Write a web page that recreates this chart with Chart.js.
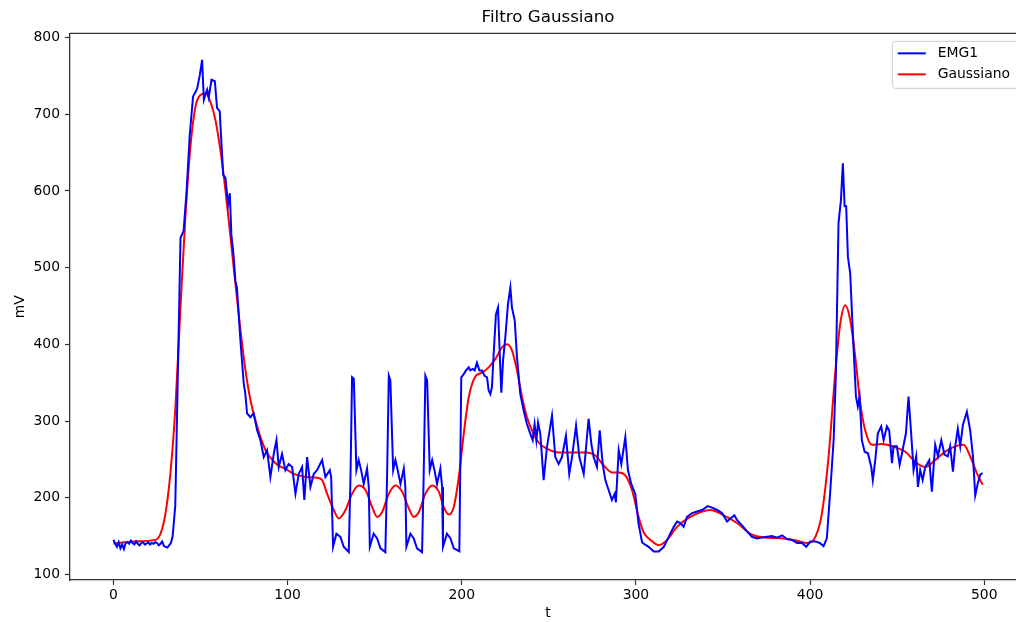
<!DOCTYPE html>
<html>
<head>
<meta charset="utf-8">
<script src="https://cdn.jsdelivr.net/npm/chart.js@4/dist/chart.umd.min.js"></script>
<style>
  html, body { margin: 0; padding: 0; background: #fff; overflow: hidden; }
  #wrap { width: 1040px; height: 622px; }
</style>
</head>
<body>
<div id="wrap"><canvas id="chart" width="1040" height="622"></canvas></div>
<script>
// EMG1 raw signal (t, mV)
let emgT = [0, 1, 2, 3, 4, 5, 6, 7, 8, 9, 10, 11, 12, 13, 14, 15, 16, 17, 18, 19, 20, 21, 22, 23, 24, 25, 26, 27, 28, 29, 30, 31, 32, 33, 34, 35.5,
    38.5, 40.3, 42, 43.8, 45.7, 48, 49.5, 50.9, 51.9, 53, 53.8, 54.7, 56.3, 58.2, 59.5, 61, 63, 64.3, 65.8, 66.8, 67.7, 69, 70, 70.9,
    72.9, 74.8, 75.7, 76.7, 78.6, 80.5, 82.5, 84.4, 86.3, 88.2, 90.1, 92.1, 93.6, 94.9, 96.8, 98.7, 100.6,
    102.6, 104.5, 106.4, 108.3, 109.6, 111.2, 113.1, 115, 116.9, 119.8, 121.7, 124.2, 125, 126.1, 128, 130.3, 132.2, 135.1,
    136.1, 137, 138, 139.5, 140.8, 142.2, 143.7, 145.6, 146.6, 147.2, 149.4, 151.4, 153.3, 156.1,
    157.1, 158.1, 159, 160.6, 161.9, 163.2, 164.8, 166.7, 167.6, 168.2, 170.5, 172.4, 174.3, 177.2,
    178.1, 179.1, 180.1, 181.6, 183, 184.3, 185.8, 187.7, 188.7, 189.2, 191.5, 193.5, 195.4, 198.6,
    199.7, 201.1, 202.4, 204, 204.9, 206.3, 207.4, 208.7, 210.1, 211.6, 213.1, 214.5, 215.4, 216.4, 217.3, 218.3, 219.6, 220.8,
    221.8, 222.7, 223.7, 225, 226.5, 227.9, 228.8, 230.4, 231.7, 233.6, 235.5, 237.4, 239.4, 240.7, 241.8, 242.8, 243.8, 245.1,
    247, 248.9, 251.8, 253.7, 255.6, 257.5, 259.8, 261.7, 263.3, 265.6, 267.5, 270, 272.8, 274.4, 275.7, 277.6, 279.2, 280.9,
    282.4, 284.3, 286.2, 287.8, 288.5, 290.1, 291.6, 293.9, 295.4, 297.3, 299.6, 301.5, 303.5,
    304.5, 307.3, 310.2, 313.1, 316, 318.8, 321.7, 323.6, 325.5, 327.4, 329.3, 332.2, 335.1, 338, 341.2, 343.7, 346.6, 349.4,
    352.3, 354.2, 356.5, 358, 360.9, 363.8, 366.6, 369.5, 372.4, 375.3, 378.1, 381, 383.9, 386.7, 389.6, 392.5, 395.3, 397.8,
    400.1, 403, 405.5, 407.7, 409.6, 411.6, 413.5, 414.8, 416.3, 417.7, 418.8, 419.8, 420.7, 421.7, 423, 424.9, 426.3, 427.4,
    428.4, 429.7, 431.3, 433.2, 435.1, 436, 437.4, 438.9, 440.8, 442.2, 444.1, 445.4, 447, 447.9, 449.8, 451.4, 453.1, 455,
    456.5, 458, 459.4, 460.9, 461.9, 463.2, 464.6, 466.1, 468.4, 469.9, 471.8, 473.4, 475.3, 477.2, 479.1, 480.4, 482, 483.3,
    484.8, 486.2, 487.7, 490, 491.9, 493.5, 494.8, 496.3, 497.7, 499]
let emgV = [145, 140, 136, 142, 134, 139, 133, 141, 142, 140, 144, 141, 139, 143, 140, 138, 141, 142, 139, 140, 142, 139, 141, 140, 142, 141, 138, 140, 143, 137, 136, 135, 138, 141, 150, 190,
    539, 548, 600, 673, 723, 733, 750, 771, 719, 727, 732, 722, 745, 743, 708, 704, 621, 617, 582, 597, 543, 515, 483, 474,
    405, 349, 336, 310, 305, 310, 288, 275, 253, 262, 227, 258, 275, 240, 257, 236, 244,
    240, 205, 231, 240, 197, 253, 214, 231, 236, 249, 227, 236, 227, 136, 153, 149, 136, 129,
    227, 357, 355, 236, 249, 236, 218, 238, 214, 136, 153, 147, 134, 129,
    227, 359, 353, 236, 249, 236, 218, 238, 214, 136, 153, 147, 134, 129,
    227, 359, 353, 236, 249, 236, 218, 238, 214, 136, 153, 147, 134, 130,
    357, 361, 366, 370, 366, 368, 366, 376, 366, 366, 359, 357, 340, 335, 344, 387, 439, 448,
    387, 337, 379, 409, 452, 474, 448, 431, 383, 335, 314, 296, 283, 275, 296, 275, 298, 283,
    223, 266, 307, 253, 244, 253, 281, 231, 253, 294, 253, 231, 303, 270, 253, 240, 288, 244,
    223, 210, 197, 205, 194, 262, 244, 279, 236, 218, 205, 166, 142,
    140, 136, 130, 130, 136, 149, 162, 169, 167, 162, 175, 180, 182, 184, 189, 187, 184, 180,
    169, 173, 177, 171, 164, 156, 149, 147, 148, 149, 150, 148, 151, 146, 145, 141, 141, 136,
    143, 143, 141, 137, 147, 210, 275, 362, 558, 588, 636, 580, 580, 514, 493, 397, 332, 319,
    332, 275, 260, 258, 240, 223, 249, 284, 293, 275, 293, 288, 245, 267, 267, 243, 262, 284,
    332, 284, 236, 254, 214, 236, 223, 240, 249, 208, 269, 254, 275, 256, 254, 267, 234, 267,
    290, 267, 295, 312, 288, 254, 203, 219, 230, 232]

// Gaussian filtered curve (t, mV)
let gaussT = [0, 11.7, 24.1, 27, 29.9, 32.7, 35.6, 38.5, 41.3, 44.2, 47.1, 49.9, 52.8, 55.7, 58.6, 61.4, 64.3, 67.2, 70, 72.9,
    75.8, 78.7, 82.5, 87.3, 93, 100, 103.5, 111.2, 116.9, 119.8, 122.7, 126.5, 129.4, 133.2, 137, 140.8, 144.7, 148.5, 151.4,
    154.2, 158.1, 161.9, 165.7, 169.6, 172.4, 175.3, 179.1, 183, 186.8, 189.6, 192.5, 195.4, 198.3, 201.1, 204, 207.8, 211.6,
    215.4, 219.3, 223.1, 226, 228.8, 231.7, 234.6, 237.4, 240.3, 244.1, 248.9, 255.6, 263.3, 270.9, 276.7, 281.5, 286.2, 290.1,
    293.9, 297.7, 301.5, 304.4, 308.3, 313.1, 317.9, 323.6, 331.2, 342.7, 350.4, 358, 365.7, 373.3, 382.9, 392.5, 398.2, 403,
    406.8, 410.6, 414.4, 417.3, 420.2, 423, 425.9, 428.8, 431.6, 435.5, 441.2, 447, 454.6, 460.3, 466.1, 471.8, 477.6, 483.3,
    488.1, 491.9, 495.7, 499]
let gaussV = [140, 143, 145, 153, 180, 232, 319, 449, 566, 658, 710, 725, 727, 716, 692, 653, 601, 540, 479, 419,
    366, 327, 293, 262, 245, 236, 231, 227, 226, 223, 205, 184, 173, 184, 205, 216, 210, 188, 175,
    181, 205, 216, 208, 186, 175, 181, 205, 216, 208, 188, 178, 188, 227, 283, 331, 358, 363,
    370, 381, 396, 400, 392, 366, 331, 305, 288, 272, 264, 259, 259, 259, 255, 242, 233, 233,
    229, 210, 175, 155, 145, 138, 145, 162, 175, 184, 177, 167, 153, 148, 147, 144, 141, 149,
    180, 254, 362, 427, 451, 432, 384, 323, 288, 269, 270, 267, 260, 247, 240, 249, 260, 267,
    269, 254, 232, 217]

let xTicks = [0, 100, 200, 300, 400, 500]
let yTicks = [100, 200, 300, 400, 500, 600, 700, 800]

let font = "'DejaVu Sans', sans-serif"
let axisColor = '#333'

// top spine (matplotlib box)
let frame = {
    id: 'frame',
    afterDraw(chart) {
        let {ctx, chartArea} = chart
        ctx.save()
        ctx.strokeStyle = axisColor
        ctx.lineWidth = 1.3
        ctx.beginPath()
        ctx.moveTo(chartArea.left, chartArea.top)
        ctx.lineTo(chartArea.right, chartArea.top)
        ctx.stroke()
        ctx.restore()
    }
}

// legend drawn inside the plot, upper right like matplotlib
let innerLegend = {
    id: 'innerLegend',
    afterDraw(chart) {
        let {ctx, chartArea} = chart
        let sets = chart.data.datasets
        ctx.save()
        ctx.font = '13.9px ' + font
        let textW = Math.max(...sets.map(d => ctx.measureText(d.label).width))
        let w = 6 + 28 + 12 + textW + 9
        let h = 47
        let x = chartArea.right - 7 - w
        let y = chartArea.top + 7.5
        ctx.fillStyle = 'rgba(255,255,255,0.8)'
        ctx.strokeStyle = '#cccccc'
        ctx.lineWidth = 1
        ctx.beginPath()
        ctx.roundRect(x + 0.5, y + 0.5, w, h, 3)
        ctx.fill()
        ctx.stroke()
        sets.forEach((d, i) => {
            let ly = y + 12.5 + i * 21
            ctx.strokeStyle = d.borderColor
            ctx.lineWidth = 2
            ctx.beginPath()
            ctx.moveTo(x + 6, ly)
            ctx.lineTo(x + 34, ly)
            ctx.stroke()
            ctx.fillStyle = '#000'
            ctx.textBaseline = 'middle'
            ctx.fillText(d.label, x + 46, ly)
        })
        ctx.restore()
    }
}

new Chart(document.querySelector('#chart').getContext('2d'), {
    type: 'line',
    data: {
        datasets: [
            {
                label: 'EMG1',
                data: emgT.map((t, i) => ({x: t, y: emgV[i]})),
                borderColor: '#0000ff',
                borderWidth: 2,
                pointRadius: 0,
                tension: 0,
            },
            {
                label: 'Gaussiano',
                data: gaussT.map((t, i) => ({x: t, y: gaussV[i]})),
                borderColor: '#ff0000',
                borderWidth: 2,
                pointRadius: 0,
                cubicInterpolationMode: 'monotone',
            }
        ]
    },
    plugins: [frame, innerLegend],
    options: {
        responsive: false,
        animation: false,
        devicePixelRatio: 1,
        layout: { padding: { left: 0, right: 14, top: 0, bottom: 0 } },
        plugins: {
            legend: { display: false },
            tooltip: { enabled: false },
            title: {
                display: true,
                text: 'Filtro Gaussiano',
                fullSize: false,
                color: '#000',
                font: { family: font, size: 16.7, weight: 'normal' },
                padding: { top: 8, bottom: 5.3 },
            },
        },
        scales: {
            x: {
                type: 'linear',
                min: -24.95,
                max: 523.95,
                afterBuildTicks: s => { s.ticks = xTicks.map(v => ({value: v})) },
                afterFit: s => { s.height = 42 },
                grid: { drawOnChartArea: false, tickLength: 5, color: axisColor, tickWidth: 1.2 },
                border: { color: axisColor, width: 1.3 },
                ticks: { color: '#000', padding: 2, maxRotation: 0, font: { family: font, size: 13.9 } },
                title: { display: true, text: 't', color: '#000', padding: { top: 0, bottom: 0 }, font: { family: font, size: 13.9 } },
            },
            y: {
                type: 'linear',
                min: 92.7,
                max: 805.5,
                afterBuildTicks: s => { s.ticks = yTicks.map(v => ({value: v})) },
                afterFit: s => { s.width = 70 },
                grid: { drawOnChartArea: false, tickLength: 5, color: axisColor, tickWidth: 1.2 },
                border: { color: axisColor, width: 1.3 },
                ticks: { color: '#000', padding: 5, font: { family: font, size: 13.9 } },
                title: { display: true, text: 'mV', color: '#000', padding: { top: 12, bottom: 0 }, font: { family: font, size: 13.9 } },
            }
        }
    }
})
</script>
</body>
</html>
